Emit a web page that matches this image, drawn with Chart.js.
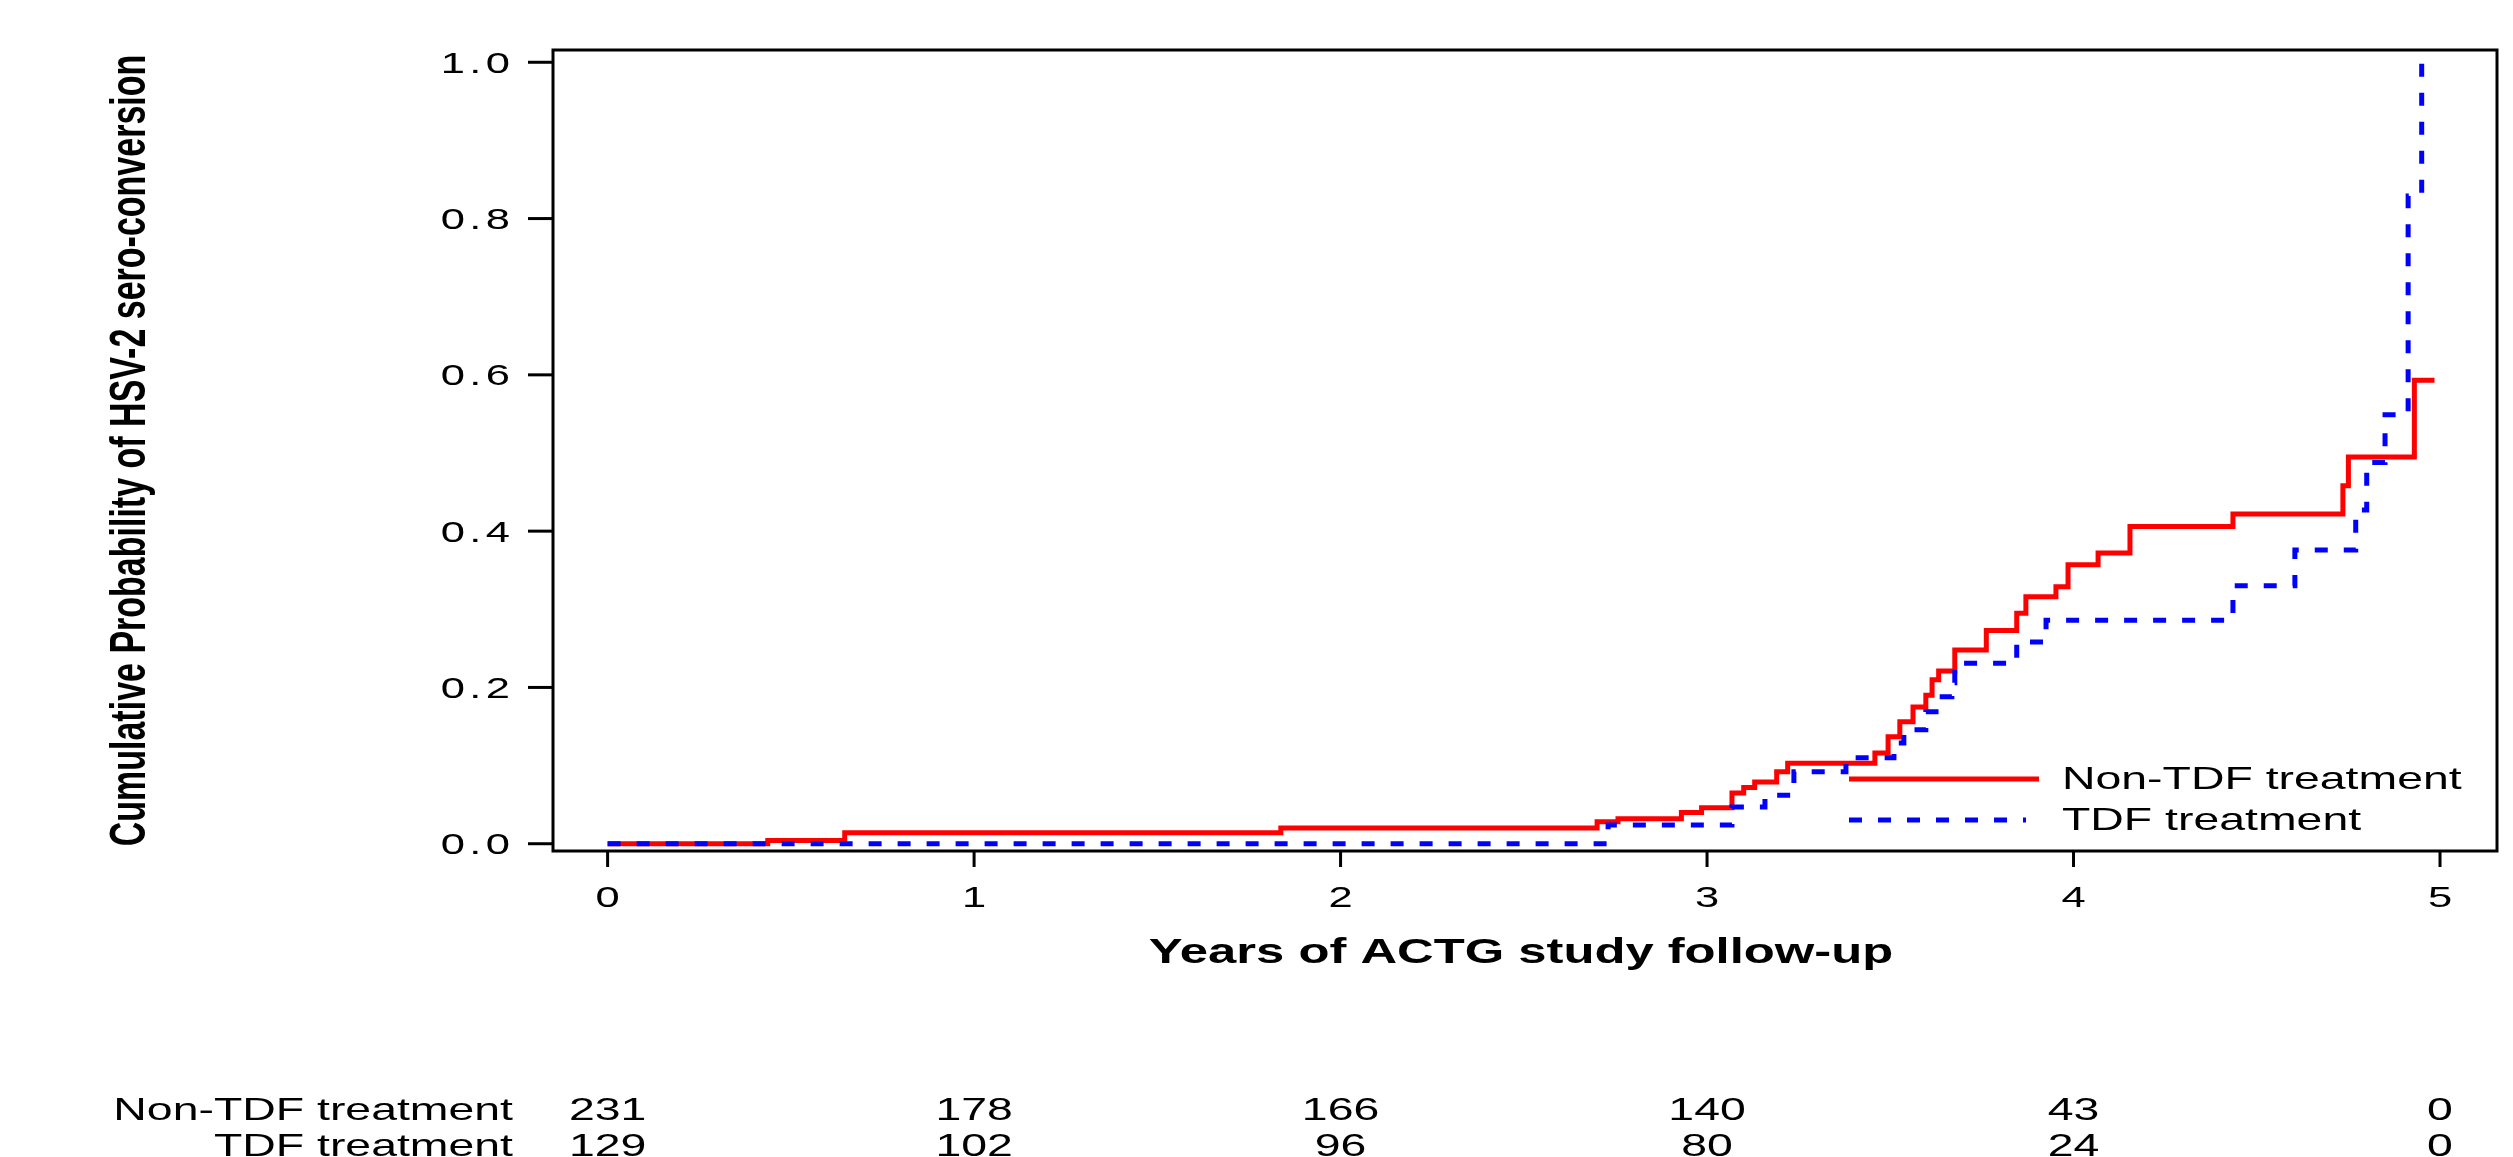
<!DOCTYPE html>
<html lang="en">
<head>
<meta charset="UTF-8" />
<title>Cumulative Probability of HSV-2 sero-conversion</title>
<style>
  html, body {
    margin: 0;
    padding: 0;
    background: #fff;
  }
  .chart-box {
    width: 2513px;
    height: 1157px;
    position: relative;
  }
</style>
</head>
<body>

<div class="chart-box">
  <canvas id="kmChart" role="img" aria-label="Cumulative probability of HSV-2 sero-conversion by treatment"></canvas>
</div>

<script src="https://cdn.jsdelivr.net/npm/chart.js"></script>
<script>
  // values
  const seriesNames = ['Non-TDF treatment', 'TDF treatment'];

  const nonTdfYears = [0, 0.437, 0.647, 1.837, 2.70, 2.757, 2.93, 2.985, 3.068, 3.10, 3.13, 3.19, 3.22,
    3.458, 3.494, 3.526, 3.562, 3.597, 3.614, 3.632, 3.676, 3.762, 3.845, 3.87, 3.952, 3.985, 4.067,
    4.154, 4.435, 4.735, 4.75, 4.93, 4.985];
  const nonTdfProb = [0, 0.004, 0.014, 0.020, 0.028, 0.032, 0.040, 0.046, 0.065, 0.072, 0.079, 0.092, 0.103,
    0.116, 0.137, 0.156, 0.175, 0.190, 0.210, 0.221, 0.248, 0.273, 0.295, 0.316, 0.329, 0.357, 0.372,
    0.406, 0.422, 0.458, 0.495, 0.593, 0.593];

  const tdfYears = [0, 2.73, 3.068, 3.158, 3.237, 3.379, 3.51, 3.537, 3.597, 3.632, 3.668, 3.676,
    3.845, 3.925, 4.435, 4.604, 4.77, 4.80, 4.85, 4.913, 4.95];
  const tdfProb = [0, 0.024, 0.047, 0.062, 0.092, 0.110, 0.129, 0.146, 0.169, 0.188, 0.206, 0.231,
    0.258, 0.286, 0.330, 0.376, 0.427, 0.488, 0.549, 0.829, 1.0];

  const xTicks = [0, 1, 2, 3, 4, 5];
  const yTicks = [0, 0.2, 0.4, 0.6, 0.8, 1.0];
  const yTickLabels = ['0.0', '0.2', '0.4', '0.6', '0.8', '1.0'];

  const atRiskNonTdf = [231, 178, 166, 140, 43, 0];
  const atRiskTdf = [129, 102, 96, 80, 24, 0];

  const xTitle = 'Years of ACTG study follow-up';
  const yTitle = 'Cumulative Probability of HSV-2 sero-conversion';

  // the source picture is stretched sideways, so all text is too
  const STRETCH = 1.45;
  const FONT = '"Liberation Sans", Arial, sans-serif';

  function toPoints(xs, ys) {
    return xs.map((x, i) => ({ x: x, y: ys[i] }));
  }

  function wideText(ctx, text, x, y, size, align, bold, spacing) {
    ctx.save();
    ctx.translate(x, y);
    ctx.scale(STRETCH, 1);
    ctx.font = (bold ? 'bold ' : '') + size + 'px ' + FONT;
    ctx.textAlign = align;
    ctx.textBaseline = 'alphabetic';
    ctx.fillStyle = '#000';
    if (spacing) {
      ctx.letterSpacing = spacing + 'px';
      // trailing gap would push right-aligned text left
      if (align === 'right') ctx.translate(spacing, 0);
    }
    ctx.fillText(text, 0, 0);
    ctx.restore();
  }

  // box, ticks, titles, legend and number-at-risk table
  const decorations = {
    id: 'decorations',
    afterDraw(chart) {
      const ctx = chart.ctx;
      const a = chart.chartArea;
      const xs = chart.scales.x;
      const ys = chart.scales.y;

      ctx.save();
      ctx.strokeStyle = '#000';
      ctx.lineWidth = 3;
      ctx.strokeRect(a.left, a.top, a.right - a.left, a.bottom - a.top);

      yTicks.forEach((v, i) => {
        const py = ys.getPixelForValue(v);
        ctx.beginPath();
        ctx.moveTo(a.left - 25, py);
        ctx.lineTo(a.left, py);
        ctx.stroke();
        wideText(ctx, yTickLabels[i], a.left - 43, py + 10.5, 30, 'right', false, 3);
      });

      xTicks.forEach(t => {
        const px = xs.getPixelForValue(t);
        ctx.beginPath();
        ctx.moveTo(px, a.bottom);
        ctx.lineTo(px, a.bottom + 16);
        ctx.stroke();
        wideText(ctx, String(t), px, a.bottom + 56, 30, 'center');
      });
      ctx.restore();

      wideText(ctx, xTitle, (a.left + a.right) / 2 - 4, a.bottom + 112, 35, 'center', true);

      // rotated y title
      ctx.save();
      ctx.translate(145, (a.top + a.bottom) / 2);
      ctx.scale(STRETCH, 1);
      ctx.rotate(-Math.PI / 2);
      ctx.font = 'bold 34px ' + FONT;
      ctx.textAlign = 'center';
      ctx.textBaseline = 'alphabetic';
      ctx.fillStyle = '#000';
      ctx.fillText(yTitle, 0, 0);
      ctx.restore();

      // legend, drawn with the datasets' own line styles
      const rows = [779, 820];
      chart.data.datasets.forEach((ds, i) => {
        ctx.save();
        ctx.strokeStyle = ds.borderColor;
        ctx.lineWidth = ds.borderWidth;
        ctx.setLineDash(ds.borderDash || []);
        ctx.beginPath();
        ctx.moveTo(1849, rows[i]);
        ctx.lineTo(i === 0 ? 2039 : 2026, rows[i]);
        ctx.stroke();
        ctx.restore();
        wideText(ctx, ds.label, 2062, rows[i] + 10, 32, 'left');
      });

      // number at risk
      const tableRows = [[seriesNames[0], atRiskNonTdf, 1120], [seriesNames[1], atRiskTdf, 1156]];
      tableRows.forEach(([name, counts, base]) => {
        wideText(ctx, name, 513, base, 32, 'right');
        counts.forEach((n, i) => {
          wideText(ctx, String(n), xs.getPixelForValue(xTicks[i]), base, 32, 'center');
        });
      });
    }
  };

  const chart = new Chart(document.getElementById('kmChart'), {
    type: 'line',
    data: {
      datasets: [
        {
          label: seriesNames[0],
          data: toPoints(nonTdfYears, nonTdfProb),
          borderColor: '#ff0000',
          borderWidth: 5,
          stepped: true,
          pointRadius: 0,
          fill: false,
          order: 2
        },
        {
          label: seriesNames[1],
          data: toPoints(tdfYears, tdfProb),
          borderColor: '#0000ff',
          borderWidth: 5,
          borderDash: [13, 16],
          stepped: true,
          pointRadius: 0,
          fill: false,
          order: 1
        }
      ]
    },
    options: {
      responsive: true,
      maintainAspectRatio: false,
      animation: false,
      layout: {
        padding: { left: 553, top: 50, right: 16, bottom: 306 }
      },
      scales: {
        x: { type: 'linear', display: false, min: -0.149, max: 5.1555 },
        y: { type: 'linear', display: false, min: -0.0093, max: 1.0157 }
      },
      plugins: {
        legend: { display: false },
        tooltip: { enabled: false }
      }
    },
    plugins: [decorations]
  });
</script>

</body>
</html>
